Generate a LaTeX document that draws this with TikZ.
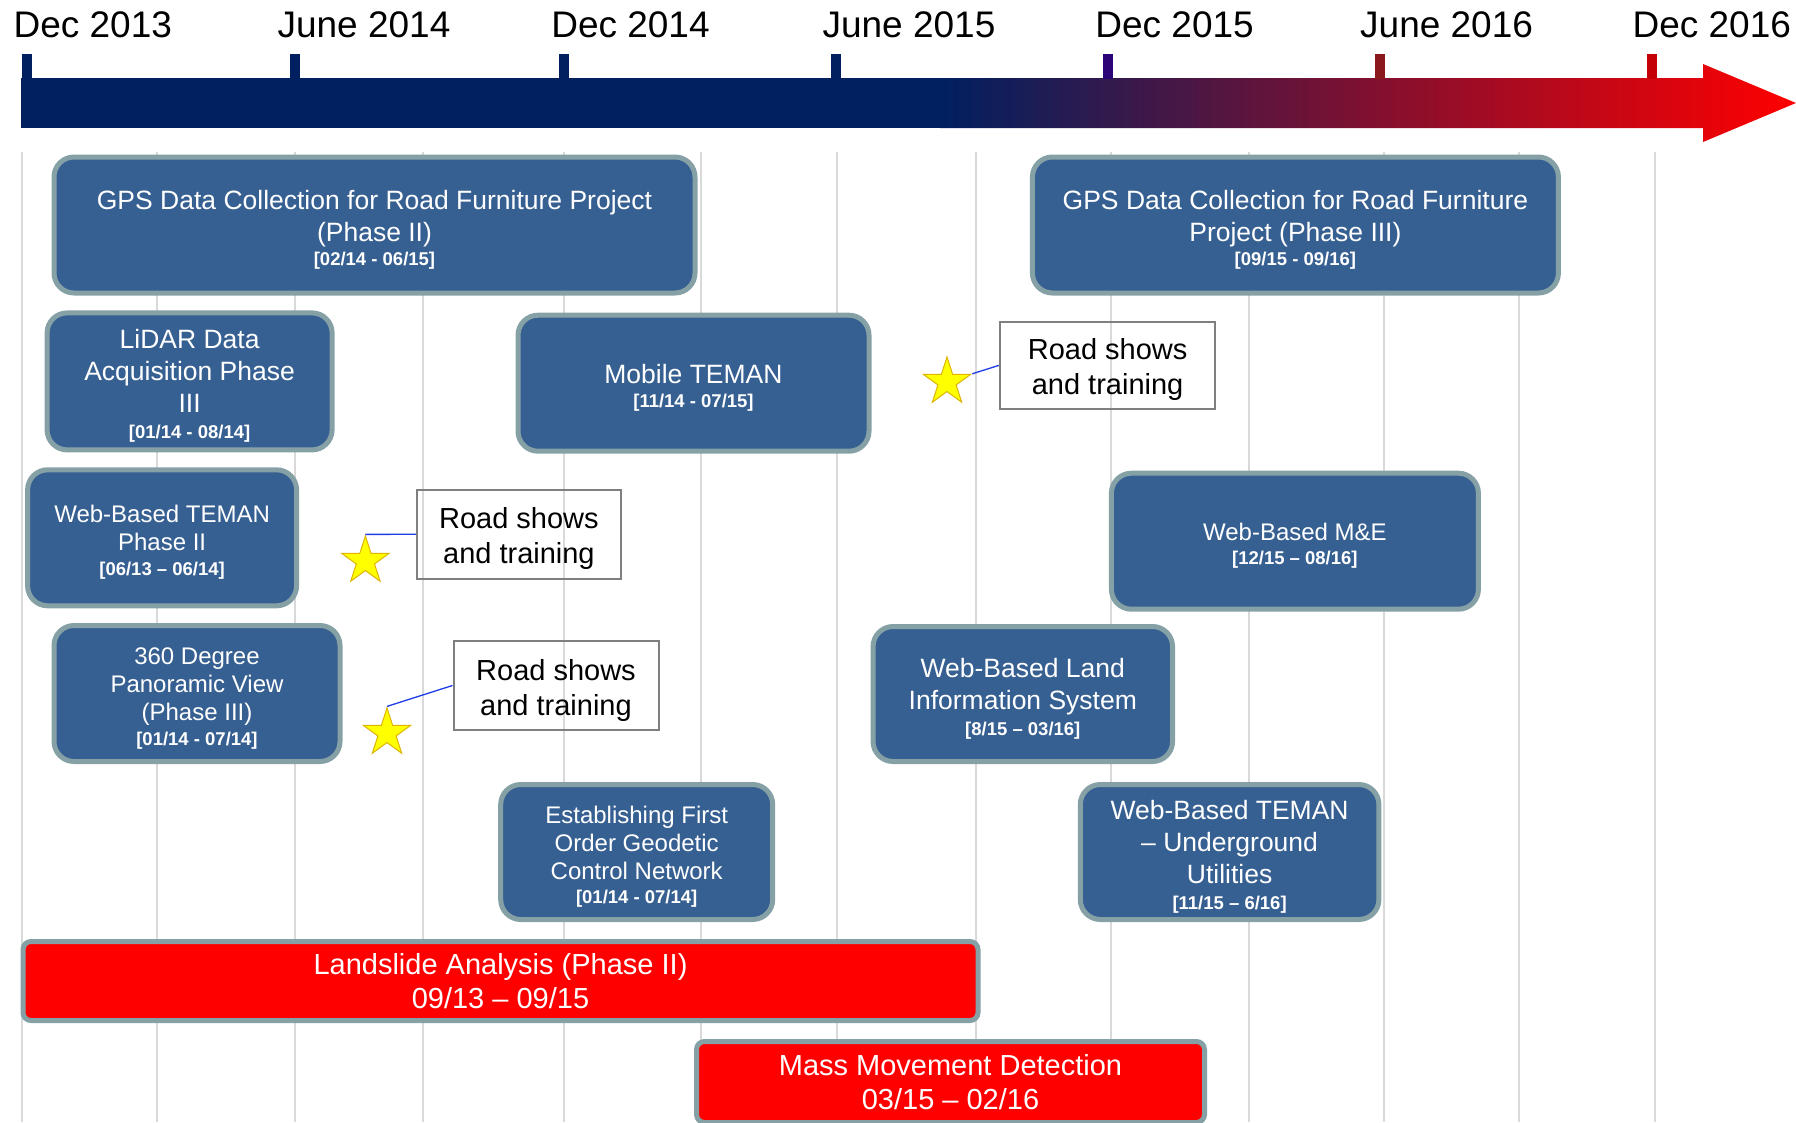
\documentclass[tikz,border=0pt]{standalone}
\usepackage{fontspec}
\setmainfont{Liberation Sans}
\usetikzlibrary{shapes.geometric}

\definecolor{navy}{RGB}{0,32,96}
\definecolor{arrowred}{RGB}{255,0,0}
\definecolor{boxblue}{RGB}{55,96,146}
\definecolor{boxedge}{RGB}{134,161,166}
\definecolor{gridgray}{RGB}{217,217,217}
\definecolor{noteedge}{RGB}{127,127,127}
\definecolor{starfill}{RGB}{255,255,0}
\definecolor{staredge}{RGB}{222,180,0}
\definecolor{linkblue}{RGB}{30,60,230}
\definecolor{tickviolet}{RGB}{44,4,120}
\definecolor{tickmaroon}{RGB}{138,24,28}
\definecolor{tickred}{RGB}{196,0,6}

\newcommand\datefont{\fontsize{18.5}{22}\selectfont\bfseries}
% taller first lines lower each text block a little inside its box
\newcommand\tallstrut{\rule{0pt}{28.5pt}}
\newcommand\midstrut{\rule{0pt}{26.7pt}}
\newcommand\notestrut{\rule{0pt}{30.2pt}}

\begin{document}
\begin{tikzpicture}[x=1pt,y=-1pt,
  gridline/.style={draw=gridgray,line width=2pt},
  datelabel/.style={anchor=base,font=\fontsize{37}{44}\selectfont,inner sep=0pt},
  projbase/.style={rectangle,rounded corners=20pt,draw=boxedge,line width=5pt,
    fill=boxblue,text=white,align=center,inner sep=0pt},
  proj/.style={projbase,font=\fontsize{26.5}{32}\selectfont},
  projsmall/.style={projbase,font=\fontsize{24}{28}\selectfont},
  bar/.style={rectangle,rounded corners=8pt,draw=boxedge,line width=5pt,
    fill=arrowred,text=white,align=center,inner sep=0pt,
    font=\fontsize{29}{34.5}\selectfont},
  note/.style={rectangle,draw=noteedge,line width=2pt,align=center,inner sep=0pt,
    font=\fontsize{29}{35}\selectfont},
  starmark/.style={star,star points=5,star point ratio=2.618,minimum size=50pt,
    inner sep=0pt,fill=starfill,draw=staredge,line width=1pt},
  link/.style={draw=linkblue,line width=1.3pt}]

\useasboundingbox (0,0) rectangle (1796,1122);

% vertical month grid
\foreach \gx in {22,157,295,423,564,701,837,976,1111,1249,1384,1519,1655}
  \draw[gridline] (\gx,152) -- (\gx,1122);

% timeline arrow: solid navy, then fading to red towards the tip
\fill[navy] (20.6,78) rectangle (945,128);
\shade[left color=navy,right color=arrowred]
  (940,78) -- (1703,78) -- (1703,64) -- (1796,103) -- (1703,142) -- (1703,128) -- (940,128) -- cycle;

% half-year ticks
\fill[navy] (22,54) rectangle (32,79);
\fill[navy] (290,54) rectangle (300,79);
\fill[navy] (559,54) rectangle (569,79);
\fill[navy] (831,54) rectangle (841,79);
\fill[tickviolet] (1103,54) rectangle (1113,79);
\fill[tickmaroon] (1375,54) rectangle (1385,79);
\fill[tickred] (1647,54) rectangle (1657,79);

% tick labels
\node[datelabel] (d1) at (92.8,37) {Dec 2013};
\node[datelabel] (d2) at (364,37) {June 2014};
\node[datelabel] (d3) at (630.5,37) {Dec 2014};
\node[datelabel] (d4) at (909,37) {June 2015};
\node[datelabel] (d5) at (1174.6,37) {Dec 2015};
\node[datelabel] (d6) at (1446.6,37) {June 2016};
\node[datelabel] (d7) at (1711.8,37) {Dec 2016};

% projects
\node[proj,minimum width=641pt,minimum height=136pt] (gps2) at (374.5,225)
  {\tallstrut GPS Data Collection for Road Furniture Project\\(Phase II)\\[-8pt]{\datefont [02/14 - 06/15]}};
\node[proj,minimum width=526pt,minimum height=136pt] (gps3) at (1295.4,225)
  {\tallstrut GPS Data Collection for Road Furniture\\Project (Phase III)\\[-8pt]{\datefont [09/15 - 09/16]}};
\node[proj,minimum width=285pt,minimum height=137pt] (lidar) at (189.6,381.4)
  {\tallstrut LiDAR Data\\Acquisition Phase\\III\\[-5.5pt]{\datefont [01/14 - 08/14]}};
\node[proj,minimum width=351pt,minimum height=136pt] (mobile) at (693.5,383.2)
  {\tallstrut Mobile TEMAN\\[-8.5pt]{\datefont [11/14 - 07/15]}};
\node[projsmall,minimum width=269pt,minimum height=136pt] (web2) at (162.1,537.8)
  {\midstrut Web-Based TEMAN\\Phase II\\[-2.5pt]{\datefont [06/13 – 06/14]}};
\node[projsmall,minimum width=286pt,minimum height=136pt] (pano) at (197,693.5)
  {\midstrut 360 Degree\\Panoramic View\\(Phase III)\\[-2.5pt]{\datefont [01/14 - 07/14]}};
\node[projsmall,minimum width=367pt,minimum height=136pt] (mande) at (1294.9,541.2)
  {\midstrut Web-Based M\&E\\[-3.5pt]{\datefont [12/15 – 08/16]}};
\node[proj,minimum width=299.5pt,minimum height=135pt] (lis) at (1022.8,694)
  {\tallstrut Web-Based Land\\Information System\\[-6.5pt]{\datefont [8/15 – 03/16]}};
\node[projsmall,minimum width=272pt,minimum height=135pt] (geo) at (636.7,852)
  {\midstrut Establishing First\\Order Geodetic\\Control Network\\[-3.5pt]{\datefont [01/14 - 07/14]}};
\node[proj,minimum width=298.6pt,minimum height=135pt] (under) at (1229.6,852)
  {\tallstrut Web-Based TEMAN\\– Underground\\Utilities\\[-6.5pt]{\datefont [11/15 – 6/16]}};

% hazard studies
\node[bar,minimum width=955pt,minimum height=79pt] (landslide) at (500.5,981)
  {Landslide Analysis (Phase II)\\09/13 – 09/15};
\node[bar,minimum width=508pt,minimum height=81pt] (mass) at (950.5,1082)
  {Mass Movement Detection\\03/15 – 02/16};

% road show callouts
\node[note,minimum width=215.6pt,minimum height=87.3pt] (rs1) at (1107.6,365.4)
  {\notestrut Road shows\\and training};
\node[note,minimum width=204pt,minimum height=88.6pt] (rs2) at (518.9,534.3)
  {\notestrut Road shows\\and training};
\node[note,minimum width=205pt,minimum height=88.5pt] (rs3) at (556,685.5)
  {\notestrut Road shows\\and training};

\node[starmark] (s1) at (947,382) {};
\node[starmark] (s2) at (365.4,561) {};
\node[starmark] (s3) at (387,733) {};

\draw[link] (s1.18) -- (rs1.west);
\draw[link] (s2.90) -- (rs2.west);
\draw[link] (s3.90) -- (rs3.west);

\end{tikzpicture}
\end{document}
